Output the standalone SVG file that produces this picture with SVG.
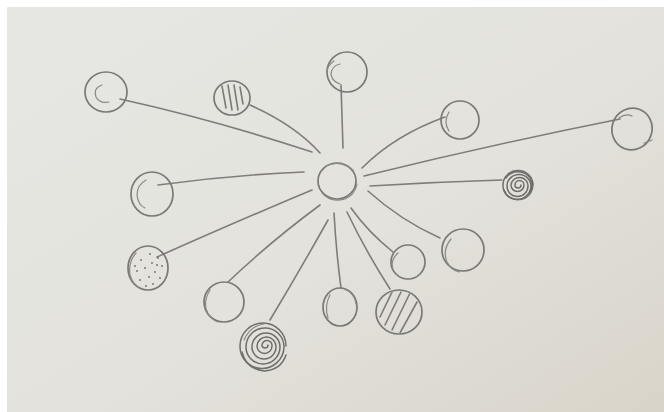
<svg xmlns="http://www.w3.org/2000/svg" width="664" height="412" viewBox="0 0 664 412">
<defs>
<linearGradient id="paper" x1="0" y1="0" x2="1" y2="1">
<stop offset="0" stop-color="#e7e8e4"/>
<stop offset="0.55" stop-color="#e3e2dc"/>
<stop offset="1" stop-color="#d9d4ca"/>
</linearGradient>
<clipPath id="c2"><circle cx="232" cy="98" r="17"/></clipPath>
<clipPath id="c9"><ellipse cx="399" cy="312" rx="22" ry="21"/></clipPath>
<clipPath id="c13"><ellipse cx="148" cy="268" rx="20" ry="22"/></clipPath>
</defs>
<style>
.p{fill:none;stroke:#7a7975;stroke-width:1.7;stroke-linecap:round;stroke-linejoin:round}
.t{fill:none;stroke:#8a8984;stroke-width:1.2;stroke-linecap:round}
.h{fill:none;stroke:#7c7b76;stroke-width:1.6;stroke-linecap:round}
.s{fill:none;stroke:#6f6e6a;stroke-width:1.5;stroke-linecap:round}
.d{fill:#6f6e69}
.e{fill:none;stroke:#7e7d79;stroke-width:1.6;stroke-linecap:round}
</style>
<rect width="664" height="412" fill="#ffffff"/>
<rect x="7" y="7" width="657" height="405" fill="url(#paper)"/>

<g id="connectors">
<path class="e" d="M120 99 Q215 120 312 152"/>
<path class="e" d="M250 105 Q295 125 320 153"/>
<path class="e" d="M341 85 Q342 118 343 148"/>
<path class="e" d="M445 117 Q395 135 362 168"/>
<path class="e" d="M620 119 Q490 145 364 176"/>
<path class="e" d="M502 180 Q435 182 370 186"/>
<path class="e" d="M440 238 Q400 220 368 191"/>
<path class="e" d="M393 252 Q368 232 351 208"/>
<path class="e" d="M390 289 Q365 250 347 212"/>
<path class="e" d="M341 288 Q336 250 334 213"/>
<path class="e" d="M270 320 Q300 270 328 220"/>
<path class="e" d="M228 282 Q270 242 320 205"/>
<path class="e" d="M157 257 Q240 220 312 190"/>
<path class="e" d="M158 185 Q230 175 304 172"/>
</g>

<g id="hub">
<ellipse class="p" cx="337" cy="181" rx="19" ry="18"/>
<path class="t" d="M322 193 Q330 203 345 199 Q355 195 357 184"/>
<path class="t" d="M326 166 Q340 159 353 170"/>
</g>

<g id="n1">
<ellipse class="p" cx="106" cy="92" rx="21" ry="20"/>
<path class="t" d="M102 85 Q93 88 96 97 Q100 104 109 102"/>
</g>

<g id="n2">
<ellipse class="p" cx="232" cy="98" rx="18" ry="17"/>
<g clip-path="url(#c2)">
<path class="h" d="M222 86 L226 108 M228 85 L232 110 M234 85 L238 110 M240 87 L243 104"/>
</g>
</g>

<g id="n3">
<ellipse class="p" cx="347" cy="72" rx="20" ry="20"/>
<path class="t" d="M340 64 Q331 66 331 75 Q333 82 340 84"/>
<path class="t" d="M334 61 Q327 66 327 72"/>
</g>

<g id="n4">
<ellipse class="p" cx="460" cy="120" rx="19" ry="19"/>
<path class="t" d="M449 112 Q443 122 449 131"/>
</g>

<g id="n5">
<ellipse class="p" cx="632" cy="129" rx="20" ry="21" transform="rotate(20 632 129)"/>
<path class="t" d="M619 118 Q626 113 632 116"/>
<path class="t" d="M644 143 Q648 142 652 140"/>
</g>

<g id="n6">
<path class="s" d="M533 185 A15 14.5 0 0 0 503 185 A14 14 0 0 0 531 186 A12 11.5 0 0 0 507 186 A10.5 10.5 0 0 0 528 186 A8.5 8 0 0 0 511 185 A6.5 6.5 0 0 0 524 185 A4.5 4.5 0 0 0 515 185 A3 3 0 0 0 521 185"/>
<path class="s" d="M504 190 A14 13 0 0 0 532 182 M506 178 A13 12 0 0 1 530 191"/>
</g>

<g id="n7">
<ellipse class="p" cx="463" cy="250" rx="21" ry="21"/>
<path class="t" d="M451 239 Q442 250 447 262 Q451 270 459 272"/>
</g>

<g id="n8">
<ellipse class="p" cx="408" cy="262" rx="17" ry="17"/>
<path class="t" d="M398 253 Q390 260 393 270"/>
</g>

<g id="n9">
<ellipse class="p" cx="399" cy="312" rx="23" ry="22"/>
<g clip-path="url(#c9)">
<path class="h" d="M393 290 L380 317 M401 292 L385 325 M410 293 L392 330 M417 302 L400 333"/>
</g>
</g>

<g id="n10">
<ellipse class="p" cx="340" cy="307" rx="17" ry="19"/>
<path class="t" d="M330 295 Q324 306 328 318"/>
<path class="t" d="M344 289 Q355 293 356 304"/>
</g>

<g id="n11">
<path class="s" d="M286 346 A23 23 0 0 0 240 346 A22 22 0 0 0 284 347 A19 19 0 0 0 246 347 A17 17 0 0 0 280 347 A14 14 0 0 0 252 347 A12 12 0 0 0 276 347 A9.5 9.5 0 0 0 257 346 A7.5 7.5 0 0 0 272 346 A5 5 0 0 0 262 345 A3 3 0 0 0 268 345"/>
<path class="s" d="M242 352 Q246 369 264 371 Q281 370 286 355"/>
<path class="t" d="M244 340 Q250 326 264 324"/>
</g>

<g id="n12">
<ellipse class="p" cx="224" cy="302" rx="20" ry="20"/>
<path class="t" d="M210 290 Q202 302 208 314 Q212 320 218 322"/>
</g>

<g id="n13">
<ellipse class="p" cx="148" cy="268" rx="20" ry="22"/>
<path class="t" d="M136 253 Q128 262 130 275 Q133 285 140 288"/>
<g clip-path="url(#c13)" class="d">
<circle cx="150" cy="254" r="0.9"/><circle cx="158" cy="258" r="0.9"/><circle cx="141" cy="260" r="0.9"/>
<circle cx="152" cy="263" r="0.9"/><circle cx="162" cy="266" r="0.9"/><circle cx="145" cy="268" r="0.9"/>
<circle cx="137" cy="271" r="0.9"/><circle cx="155" cy="272" r="0.9"/><circle cx="149" cy="277" r="0.9"/>
<circle cx="160" cy="278" r="0.9"/><circle cx="140" cy="280" r="0.9"/><circle cx="153" cy="284" r="0.9"/>
<circle cx="146" cy="286" r="0.9"/><circle cx="135" cy="266" r="0.9"/><circle cx="157" cy="265" r="0.9"/>
</g>
</g>

<g id="n14">
<ellipse class="p" cx="152" cy="194" rx="21" ry="22"/>
<path class="t" d="M146 180 Q137 185 137 195 Q138 205 145 208"/>
</g>
</svg>
